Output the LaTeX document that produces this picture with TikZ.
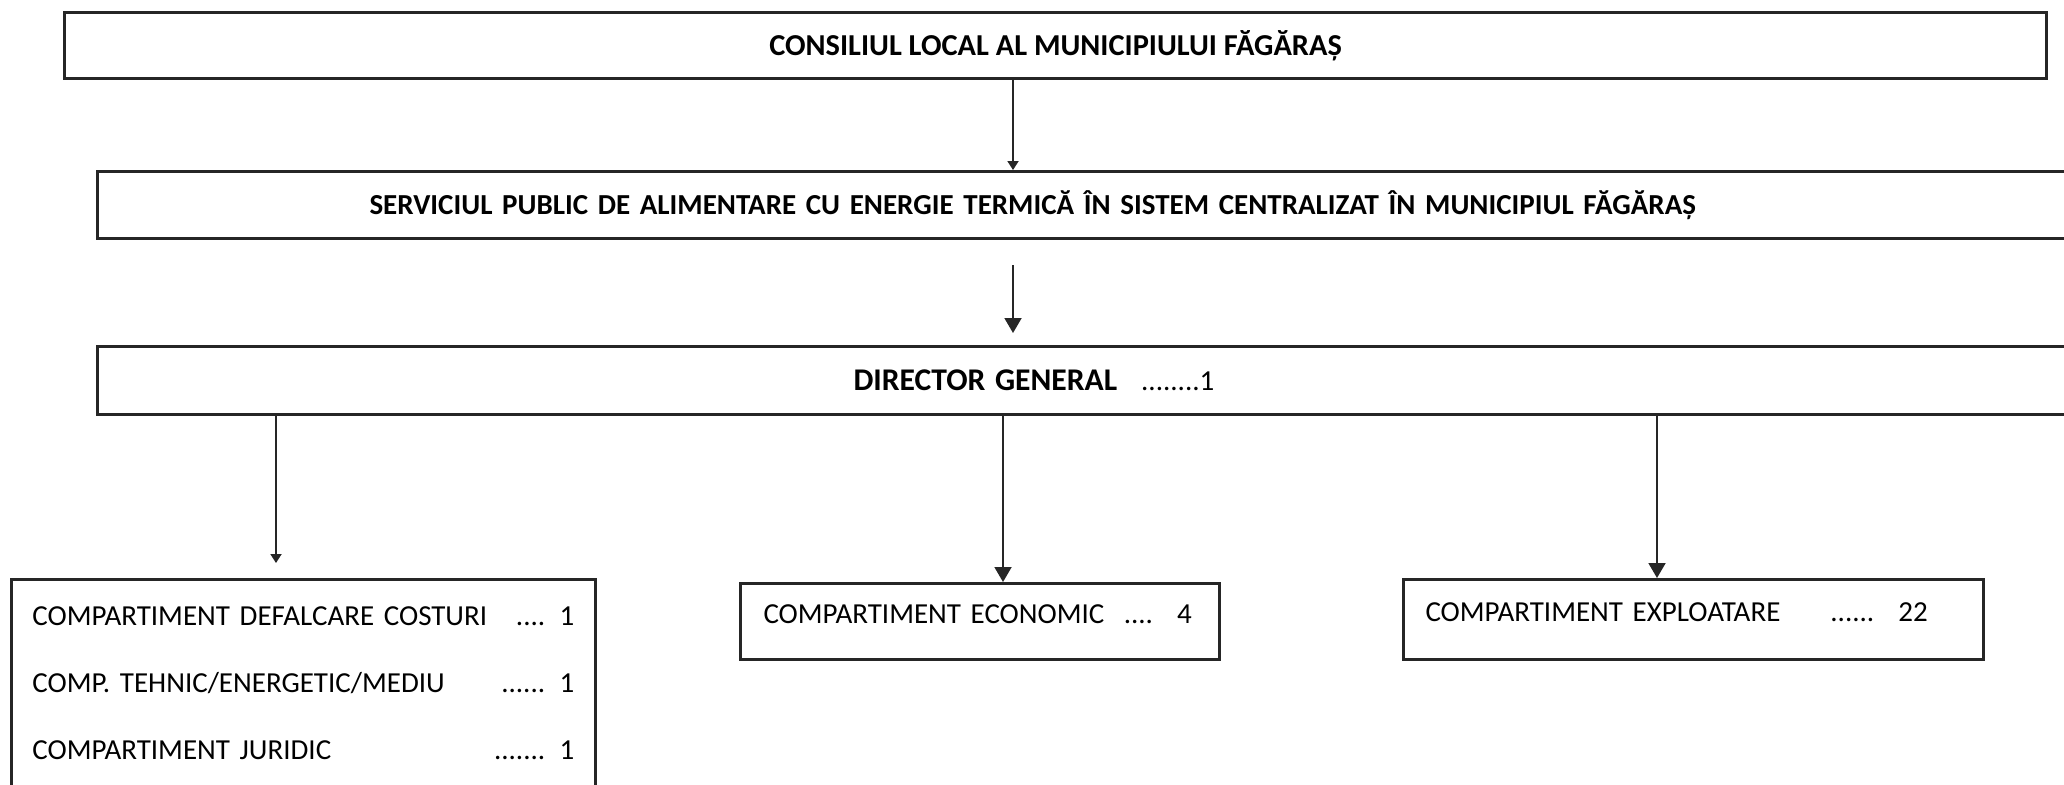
\documentclass[tikz,border=0pt]{standalone}
\usepackage{fontspec}
\setmainfont{Carlito}
\usetikzlibrary{arrows.meta}

\tikzset{
  orgbox/.style={draw=black!85, line width=1.5pt, anchor=north west, inner ysep=0pt,
    align=left, font=\fontsize{14.5pt}{17pt}\selectfont},
  headbox/.style={orgbox, font=\fontsize{14.5pt}{17pt}\selectfont\bfseries},
  link/.style={draw=black!85, line width=0.9pt, -{Triangle[length=7.5pt,width=8.5pt]}},
  weaklink/.style={link, -{Triangle[length=4.5pt,width=5.5pt]}},
}

\begin{document}
\begin{tikzpicture}[x=0.5pt,y=-0.5pt]
\useasboundingbox (0,0) rectangle (2064,784);
\clip (0,0) rectangle (2064,784);
\node[headbox, font=\fontsize{15.2pt}{17pt}\selectfont\bfseries, minimum width=991pt, minimum height=33pt, text height=9.5pt, text depth=0pt] (council) at (63,11) {CONSILIUL LOCAL AL MUNICIPIULUI FĂGĂRAȘ};
\node[headbox, minimum height=33.5pt, inner xsep=136pt, text width=720pt, text height=9.5pt, text depth=0pt] (svc) at (96,170) {SERVICIUL PUBLIC DE ALIMENTARE CU ENERGIE TERMICĂ ÎN SISTEM CENTRALIZAT ÎN MUNICIPIUL FĂGĂRAȘ};
\node[orgbox, minimum height=34pt, inner xsep=378pt, text width=236pt, text height=10pt, text depth=0pt] (dir) at (96,345) {{\fontsize{15.8pt}{17pt}\selectfont\bfseries DIRECTOR GENERAL}\hspace{12pt}........1};
%
\node[orgbox, minimum height=104pt, inner xsep=10.5pt, text width=271pt, font=\fontsize{14.5pt}{33.5pt}\selectfont] (cleft) at (10,578) {COMPARTIMENT DEFALCARE COSTURI\hfill.... 1\hspace*{5.5pt}\\
COMP. TEHNIC/ENERGETIC/MEDIU\hfill...... 1\hspace*{5.5pt}\\
COMPARTIMENT JURIDIC\hfill....... 1\hspace*{5.5pt}};
\node[orgbox, minimum height=38pt, inner xsep=11.5pt, text width=216.5pt, text height=9.5pt, text depth=8pt] (cecon) at (739,582) {COMPARTIMENT ECONOMIC~ ....~ 4};
\node[orgbox, minimum height=40pt, inner xsep=11pt, text width=268pt, text height=9.5pt, text depth=8pt] (cexpl) at (1402,578) {COMPARTIMENT EXPLOATARE\hspace{25pt}......~ 22};
%
\coordinate (trunk) at (1013,0);
\coordinate (legL) at (276,0);
\coordinate (legM) at (1003,0);
\coordinate (legR) at (1657,0);
\draw[weaklink] (council.south -| trunk) -- (svc.north -| trunk);
\draw[link, shorten <=12.5pt, shorten >=6pt] (svc.south -| trunk) -- (dir.north -| trunk);
\draw[weaklink, shorten >=7.5pt] (dir.south -| legL) -- (cleft.north -| legL);
\draw[link] (dir.south -| legM) -- (cecon.north -| legM);
\draw[link] (dir.south -| legR) -- (cexpl.north -| legR);
\end{tikzpicture}
\end{document}
